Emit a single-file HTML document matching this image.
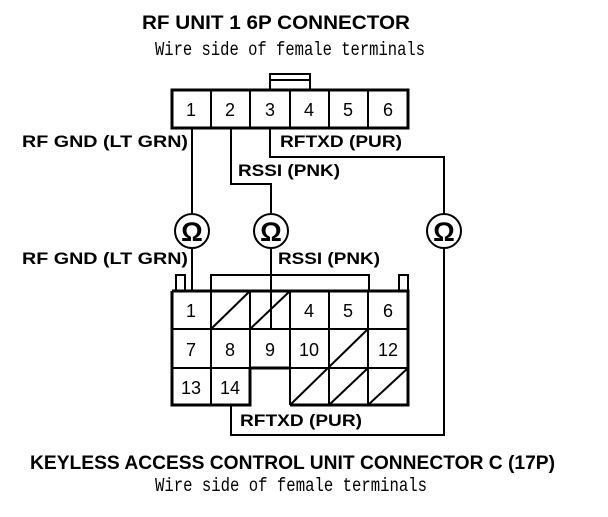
<!DOCTYPE html>
<html><head><style>html,body{margin:0;padding:0;background:#fff}</style></head>
<body>
<svg width="608" height="512" viewBox="0 0 608 512" xmlns="http://www.w3.org/2000/svg">
<g font-family="Liberation Sans, Arial, sans-serif" font-weight="bold" fill="#000">
<text x="142" y="29" font-size="19" textLength="268" lengthAdjust="spacingAndGlyphs">RF UNIT 1 6P CONNECTOR</text>
<text x="30" y="469" font-size="19" textLength="525" lengthAdjust="spacingAndGlyphs">KEYLESS ACCESS CONTROL UNIT CONNECTOR C (17P)</text>
<text x="22" y="147" font-size="16.5" textLength="166" lengthAdjust="spacingAndGlyphs">RF GND (LT GRN)</text>
<text x="280" y="147" font-size="16.5" textLength="122" lengthAdjust="spacingAndGlyphs">RFTXD (PUR)</text>
<text x="238" y="176" font-size="16.5" textLength="102" lengthAdjust="spacingAndGlyphs">RSSI (PNK)</text>
<text x="22" y="264" font-size="16.5" textLength="166" lengthAdjust="spacingAndGlyphs">RF GND (LT GRN)</text>
<text x="278" y="264" font-size="16.5" textLength="102" lengthAdjust="spacingAndGlyphs">RSSI (PNK)</text>
<text x="240" y="426" font-size="16.5" textLength="122" lengthAdjust="spacingAndGlyphs">RFTXD (PUR)</text>
</g>
<g font-family="Liberation Mono, monospace" fill="#000" font-size="19">
<text x="155" y="55" textLength="270" lengthAdjust="spacingAndGlyphs">Wire side of female terminals</text>
<text x="155" y="491" textLength="272" lengthAdjust="spacingAndGlyphs">Wire side of female terminals</text>
</g>
<g stroke="#000" stroke-width="2" fill="none">
<rect x="270" y="74" width="40" height="16"/>
<line x1="270" y1="80" x2="310" y2="80"/>
<rect x="172" y="90" width="236" height="38" stroke-width="3"/>
<line x1="211" y1="90" x2="211" y2="128"/>
<line x1="250" y1="90" x2="250" y2="128"/>
<line x1="290" y1="90" x2="290" y2="128"/>
<line x1="329" y1="90" x2="329" y2="128"/>
<line x1="368" y1="90" x2="368" y2="128"/>
<polyline points="192,128 192,214"/>
<polyline points="231,128 231,184 271,184 271,214"/>
<polyline points="270,128 270,157 444,157 444,214"/>
<circle cx="192" cy="231" r="17"/>
<circle cx="271" cy="231" r="17"/>
<circle cx="444" cy="231" r="17"/>
<polyline points="192,248 192,291"/>
<polyline points="271,248 271,329"/>
<polyline points="444,248 444,435 231,435 231,405"/>
<polyline points="211,291 211,275 369,275 369,291"/>
<rect x="176" y="275" width="9" height="16"/>
<rect x="399" y="275" width="9" height="16"/>
<polyline points="172,291 408,291 408,405 290,405" stroke-width="3"/>
<polyline points="172,291 172,405 250,405 250,368" stroke-width="3"/>
<line x1="172" y1="329" x2="408" y2="329"/>
<line x1="172" y1="368" x2="408" y2="368"/>
<line x1="250" y1="368" x2="290" y2="368" stroke-width="3"/>
<line x1="211" y1="291" x2="211" y2="405"/>
<line x1="250" y1="291" x2="250" y2="368"/>
<line x1="290" y1="291" x2="290" y2="405"/>
<line x1="329" y1="291" x2="329" y2="405"/>
<line x1="368" y1="291" x2="368" y2="405"/>
<line x1="211" y1="329" x2="250" y2="291"/>
<line x1="250" y1="329" x2="290" y2="291"/>
<line x1="290" y1="405" x2="368" y2="329"/>
<line x1="329" y1="405" x2="368" y2="368"/>
<line x1="368" y1="405" x2="408" y2="368"/>
</g>
<g font-family="Liberation Sans, Arial, sans-serif" font-size="18" fill="#000" text-anchor="middle">
<text x="191" y="116">1</text><text x="230" y="116">2</text><text x="270" y="116">3</text>
<text x="309" y="116">4</text><text x="348" y="116">5</text><text x="388" y="116">6</text>
<text x="191" y="317">1</text><text x="309" y="317">4</text><text x="348" y="317">5</text><text x="388" y="317">6</text>
<text x="191" y="356">7</text><text x="230" y="356">8</text><text x="270" y="356">9</text><text x="309" y="356">10</text><text x="388" y="356">12</text>
<text x="191" y="394">13</text><text x="230" y="394">14</text>
</g>
<g font-family="Liberation Sans, Arial, sans-serif" font-size="27" font-weight="bold" fill="#000" text-anchor="middle">
<text x="192" y="241">Ω</text><text x="271" y="241">Ω</text><text x="444" y="241">Ω</text>
</g>
</svg>
</body></html>
